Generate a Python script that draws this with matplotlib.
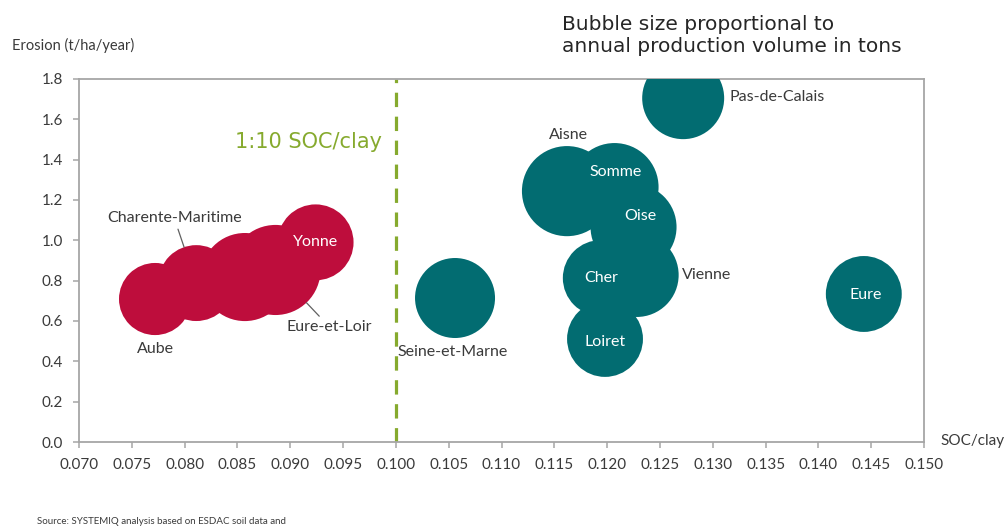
import matplotlib.pyplot as plt
import numpy as np

# regions, SOC/clay ratio, erosion (t/ha/year), production volume (kt)
red_names = ["Aube", "Charente-Maritime", "", "Eure-et-Loir", "Yonne"]
red_soc = [0.0772, 0.0811, 0.0857, 0.0886, 0.0924]
red_ero = [0.709, 0.788, 0.818, 0.853, 0.990]
red_vol = [130, 144, 194, 203, 144]

teal_names = ["Seine-et-Marne", "Pas-de-Calais", "Aisne", "Somme", "Oise",
              "Cher", "Vienne", "Loiret", "Eure"]
teal_soc = [0.1056, 0.1272, 0.1162, 0.1207, 0.1225, 0.1194, 0.1228, 0.1198, 0.1443]
teal_ero = [0.714, 1.705, 1.244, 1.264, 1.066, 0.813, 0.828, 0.511, 0.734]
teal_vol = [160, 168, 203, 194, 185, 144, 176, 144, 144]

threshold = 0.100
xticks = np.arange(0.070, 0.1501, 0.005)
yticks = np.arange(0.0, 1.801, 0.2)

RED = "#BE0D3C"
TEAL = "#026C71"
GREEN = "#86AA2E"
GREY = "#A6A6A6"
TXT = "#3A3A3A"
LBL = "Lato"

# label placement: offset in pixels from bubble centre, colour, leader line, ha
red_lbl = {
    "Aube": ((0, -50), TXT, False, "center"),
    "Charente-Maritime": ((-22, 65), TXT, True, "center"),
    "Eure-et-Loir": ((54, -57), TXT, True, "center"),
    "Yonne": ((0, 0), "white", False, "center"),
}
teal_lbl = {
    "Seine-et-Marne": ((-2, -54), TXT, False, "center"),
    "Pas-de-Calais": ((46, 1), TXT, False, "left"),
    "Aisne": ((1, 56), TXT, False, "center"),
    "Somme": ((1, 15), "white", False, "center"),
    "Oise": ((7, 11), "white", False, "center"),
    "Cher": ((0, 0), "white", False, "center"),
    "Vienne": ((45, 0), TXT, False, "left"),
    "Loiret": ((0, -3), "white", False, "center"),
    "Eure": ((2, -1), "white", False, "center"),
}

size_k = (2 * 0.72) ** 2 * 10  # points^2 per kt

fig = plt.figure(figsize=(10.05, 5.31), dpi=100)
ax = fig.add_axes([79 / 1005, 1 - 442 / 531, 845 / 1005, 363 / 531])

ax.scatter(red_soc, red_ero, s=np.array(red_vol) * size_k, color=RED,
           edgecolors="none", zorder=3)
ax.scatter(teal_soc, teal_ero, s=np.array(teal_vol) * size_k, color=TEAL,
           edgecolors="none", zorder=3)

ax.axvline(threshold, ymin=0, ymax=1, color=GREEN, lw=2.3, dashes=(4.5, 3),
           zorder=2)
ax.text(0.0987, 1.49, "1:10 SOC/clay", color=GREEN, fontsize=15,
        ha="right", va="center", family="DejaVu Sans")


def put_labels(names, xs, ys, vols, lbl):
    for n, x, y, v in zip(names, xs, ys, vols):
        if n not in lbl:
            continue
        off, col, leader, ha = lbl[n]
        r_pt = np.sqrt(v * size_k) / 2
        arrow = dict(arrowstyle="-", color="#606060", lw=0.9,
                     shrinkA=1, shrinkB=r_pt) if leader else None
        ax.annotate(n, (x, y), xytext=off, textcoords="offset pixels",
                    ha=ha, va="center", color=col, fontsize=11.5,
                    family=LBL, arrowprops=arrow, zorder=5)


put_labels(red_names, red_soc, red_ero, red_vol, red_lbl)
put_labels(teal_names, teal_soc, teal_ero, teal_vol, teal_lbl)

ax.set_xlim(0.070, 0.150)
ax.set_ylim(0.0, 1.8)
ax.set_xticks(xticks)
ax.set_yticks(yticks)
ax.set_xticklabels([f"{t:.3f}" for t in xticks])
ax.set_yticklabels([f"{t:.1f}" for t in yticks])
for lab in ax.get_xticklabels() + ax.get_yticklabels():
    lab.set_family(LBL)
ax.tick_params(axis="both", colors=GREY, labelcolor=TXT, labelsize=11,
               length=4.5, width=1.1)
ax.tick_params(axis="x", pad=7)
ax.tick_params(axis="y", pad=7)
for sp in ax.spines.values():
    sp.set_color(GREY)
    sp.set_linewidth(1.3)

fig.text(12 / 1005, 1 - 45 / 531, "Erosion (t/ha/year)", fontsize=10.5,
         family=LBL, color=TXT, va="center", ha="left")
fig.text(940 / 1005, 1 - 441 / 531, "SOC/clay", fontsize=11,
         family=LBL, color=TXT, va="center", ha="left")
fig.text(562 / 1005, 1 - 35 / 531,
         "Bubble size proportional to\nannual production volume in tons",
         fontsize=14.5, family="DejaVu Sans", color="#262626", va="center",
         ha="left", linespacing=1.2)
fig.text(37 / 1005, 1 - 521 / 531,
         "Source: SYSTEMIQ analysis based on ESDAC soil data and",
         fontsize=7, family=LBL, color=TXT, va="center", ha="left")

fig.savefig("out.png", dpi=100)
